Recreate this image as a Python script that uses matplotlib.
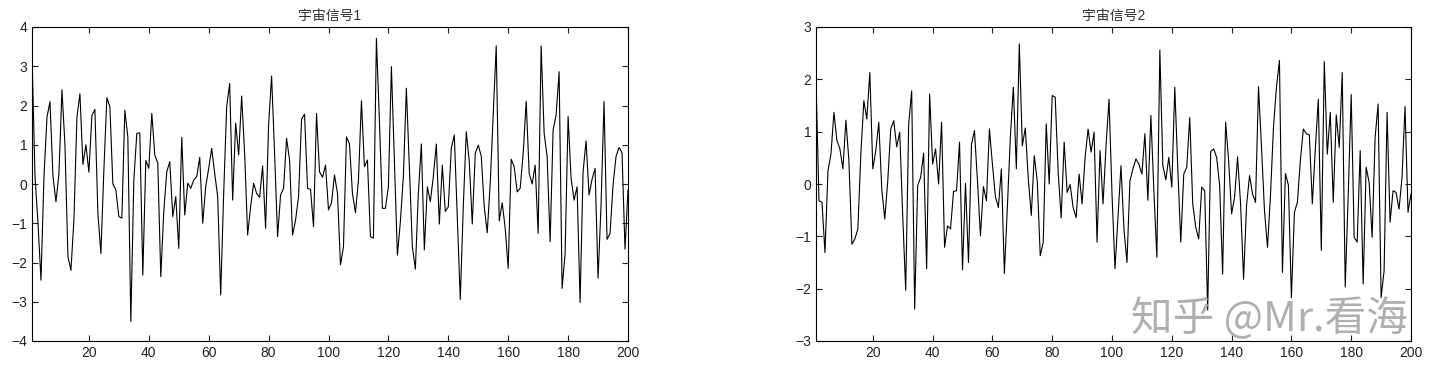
import matplotlib
matplotlib.use('Agg')
import matplotlib.pyplot as plt
import numpy as np

plt.rcParams['font.family'] = ['Liberation Sans', 'Noto Sans CJK SC', 'DejaVu Sans']

# signal 1 (index 1..200)
sig1 = [3.3, 0.2, -1.0, -2.45, 0.2, 1.7, 2.1, 0.2, -0.45, 0.27,
        2.4, 1.0, -1.85, -2.2, -0.9, 1.7, 2.3, 0.5, 1.0, 0.3,
        1.75, 1.9, -0.75, -1.77, 0.36, 2.2, 1.97, 0.0, -0.15, -0.83,
        -0.87, 1.88, 1.2, -3.5, 0.1, 1.29, 1.3, -2.32, 0.6, 0.4,
        1.8, 0.74, 0.53, -2.36, -0.7, 0.31, 0.57, -0.83, -0.32, -1.64,
        1.19, -0.79, 0.02, -0.11, 0.1, 0.19, 0.68, -1.0, -0.07, 0.4,
        0.91, 0.27, -0.32, -2.83, -0.24, 1.97, 2.56, -0.41, 1.55, 0.74,
        2.24, 0.78, -1.3, -0.58, 0.02, -0.24, -0.34, 0.46, -1.13, 1.5,
        2.75, 0.78, -1.34, -0.28, -0.11, 1.16, 0.61, -1.3, -0.92, -0.32,
        1.65, 1.78, -0.11, -0.14, -1.09, 1.8, 0.31, 0.17, 0.48, -0.66,
        -0.48, 0.23, -0.24, -2.06, -1.6, 1.2, 1.02, -0.24, -0.73, 0.1,
        2.12, 0.44, 0.61, -1.34, -1.38, 3.71, 1.6, -0.62, -0.62, -0.07,
        2.99, 0.61, -1.81, -0.96, 0.19, 2.44, 0.44, -1.6, -2.17, -0.24,
        1.02, -1.68, -0.07, -0.45, 0.19, 1.02, -1.02, 0.48, -0.7, -0.58,
        0.91, 1.25, -0.83, -2.94, -0.58, 1.33, 0.57, -1.02, 0.78, 0.99,
        0.71, -0.58, -1.24, 0.02, 1.8, 3.52, -0.94, -0.48, -1.13, -2.15,
        0.63, 0.44, -0.2, -0.11, 0.78, 2.11, 0.27, 0.0, 0.48, -1.26,
        3.52, 1.29, 0.7, -1.47, 1.38, 1.76, 2.86, -2.66, -1.77, 1.72,
        0.14, -0.41, -0.07, -3.02, 0.31, 1.1, -0.28, 0.12, 0.4, -2.4,
        -0.54, 2.1, -1.41, -1.26, -0.03, 0.7, 0.93, 0.8, -1.66, -0.15]

# signal 2 (index 1..200)
sig2 = [2.0, -0.32, -0.35, -1.31, 0.25, 0.57, 1.37, 0.83, 0.67, 0.29,
        1.22, 0.45, -1.15, -1.05, -0.86, 0.57, 1.59, 1.24, 2.13, 0.29,
        0.64, 1.18, -0.1, -0.67, 0.06, 1.05, 1.21, 0.71, 0.99, -0.6,
        -2.03, 1.15, 1.78, -2.39, -0.03, 0.13, 0.59, -1.62, 1.72, 0.38,
        0.67, 0.0, 1.18, -1.21, -0.8, -0.86, -0.14, -0.13, 0.8, -1.64,
        0.01, -1.5, 0.76, 1.02, 0.06, -0.99, -0.05, -0.32, 1.05, 0.38,
        -0.24, -0.45, 0.29, -1.71, -0.45, 0.89, 1.85, 0.29, 2.68, 0.73,
        1.07, 0.1, -0.6, 0.54, 0.06, -1.37, -1.11, 1.15, 0.0, 1.69,
        1.66, 0.22, -0.65, 0.8, -0.16, -0.01, -0.45, -0.64, 0.19, -0.38,
        0.51, 1.05, 0.61, 0.99, -1.11, 0.64, -0.38, 0.73, 1.62, -0.19,
        -1.62, -0.64, 0.35, -0.86, -1.5, 0.06, 0.29, 0.48, 0.38, 0.19,
        0.96, -0.31, 1.31, -0.13, -1.4, 2.56, 0.35, 0.08, 0.51, -0.06,
        1.85, 0.3, -1.11, 0.19, 0.32, 1.27, -0.38, -0.83, -1.05, -0.06,
        -0.13, -2.41, 0.62, 0.67, 0.51, -0.03, -1.72, 1.18, 0.45, -0.57,
        -0.25, 0.52, -0.38, -1.82, -0.41, 0.16, -0.19, -0.35, 1.86, 0.7,
        -0.51, -1.21, -0.22, 1.08, 1.85, 2.36, -1.69, 0.2, -0.02, -2.17,
        -0.54, -0.35, 0.45, 1.05, 0.96, 0.94, -0.38, 0.67, 1.62, -1.27,
        2.34, 0.57, 1.37, -0.35, 1.32, 0.7, 2.13, -1.97, -0.22, 1.71,
        -1.02, -1.11, 0.64, -1.91, 0.32, 0.03, -1.02, 0.89, 1.53, -2.17,
        -1.66, 1.37, -0.73, -0.13, -0.16, -0.48, 0.13, 1.48, -0.54, -0.19]

titles = ['宇宙信号1', '宇宙信号2']
ylims = [(-4, 4), (-3, 3)]
xticks = list(range(20, 201, 20))

fig = plt.figure(figsize=(14.42, 3.77), dpi=100)
positions = [[32/1442, 36/377, 596/1442, 314/377],
             [816/1442, 36/377, 595/1442, 314/377]]

n = np.arange(1, 201)
for pos, sig, title, yl in zip(positions, [sig1, sig2], titles, ylims):
    ax = fig.add_axes(pos)
    ax.plot(n, sig, color='black', linewidth=0.8)
    ax.set_xlim(1, 200)
    ax.set_ylim(*yl)
    ax.set_xticks(xticks)
    ax.set_yticks(range(yl[0], yl[1] + 1))
    ax.tick_params(direction='in', top=True, right=True, length=4,
                   labelsize=10, colors='#222222', width=0.8)
    for s in ax.spines.values():
        s.set_linewidth(0.8)
    ax.set_title(title, fontsize=10, pad=5, color='#333333')

# watermark
fig.text(1408/1442, 58/377, '知乎 @Mr.看海', ha='right', va='center',
         fontsize=30, color='#a8a8a8', alpha=0.9,
         family=['Noto Sans CJK SC', 'DejaVu Sans'])

fig.savefig('out.png', dpi=100)
